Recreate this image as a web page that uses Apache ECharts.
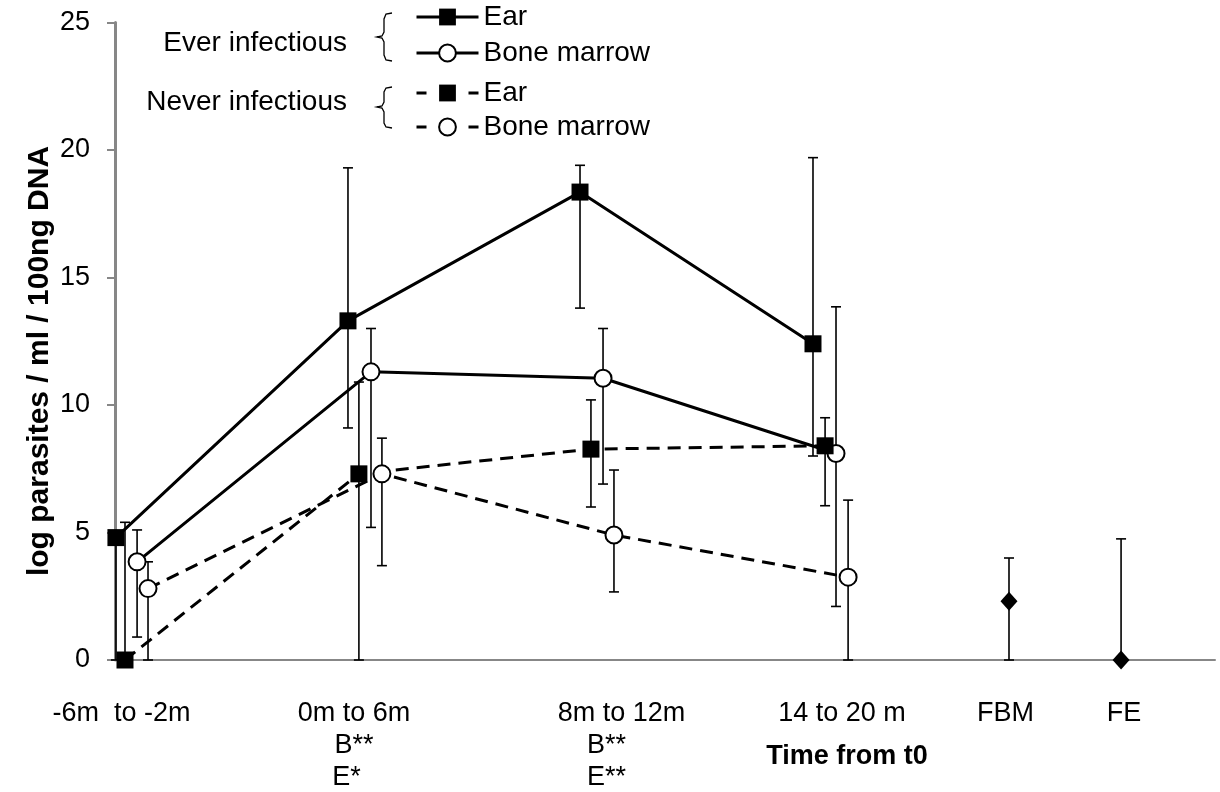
<!DOCTYPE html>
<html>
<head>
<meta charset="utf-8">
<script src="https://cdn.jsdelivr.net/npm/echarts@6/dist/echarts.min.js"></script>
</head>
<body style="margin:0;background:#fff">
<div id="main" style="width:1220px;height:792px"></div>
<script>
// x positions are in "group" units: 0 = -6m to -2m, 1 = 0m to 6m, 2 = 8m to 12m, 3 = 14 to 20 m
var earEverX = [0.004, 1.002, 2.0, 3.002];
var earEver = [4.8, 13.3, 18.35, 12.4];
var earEverLo = [0, 9.1, 13.8, 8.0];
var earEverHi = [4.8, 19.3, 19.4, 19.7];

var boneEverX = [0.095, 1.101, 2.099, 3.101];
var boneEver = [3.85, 11.3, 11.05, 8.1];
var boneEverLo = [0.9, 5.2, 6.9, 2.1];
var boneEverHi = [5.1, 13.0, 13.0, 13.85];

var earNeverX = [0.043, 1.049, 2.047, 3.054];
var earNever = [0, 7.3, 8.27, 8.4];
var earNeverLo = [0, 0, 6.0, 6.05];
var earNeverHi = [5.4, 10.9, 10.2, 9.5];

var boneNeverX = [0.142, 1.148, 2.146, 3.153];
var boneNever = [2.8, 7.3, 4.9, 3.25];
var boneNeverLo = [0, 3.7, 2.67, 0];
var boneNeverHi = [3.85, 8.7, 7.45, 6.27];

var finalX = [3.845, 4.327];
var finalVal = [2.3, 0];
var finalLo = [0, 0];
var finalHi = [4.0, 4.75];

var labelX = [0.028, 1.028, 2.114, 3.127, 3.83, 4.34];
var labelText = ['-6m  to -2m', '0m to 6m\nB**\nE*  ', '    8m to 12m\nB**\nE**', '14 to 20 m', 'FBM', 'FE'];

var yTicks = [0, 5, 10, 15, 20, 25];

function pts(xs, ys) { return xs.map(function (x, i) { return [x, ys[i]]; }); }
function errs(xs, lo, hi) { return xs.map(function (x, i) { return [x, lo[i], hi[i]]; }); }

function errRender(params, api) {
  var x = api.value(0);
  var top = api.coord([x, api.value(2)]);
  var bot = api.coord([x, api.value(1)]);
  var hw = 5;
  var st = { stroke: '#000', lineWidth: 1.6 };
  return {
    type: 'group',
    children: [
      { type: 'line', shape: { x1: top[0], y1: top[1], x2: bot[0], y2: bot[1] }, style: st },
      { type: 'line', shape: { x1: top[0] - hw, y1: top[1], x2: top[0] + hw, y2: top[1] }, style: st },
      { type: 'line', shape: { x1: bot[0] - hw, y1: bot[1], x2: bot[0] + hw, y2: bot[1] }, style: st }
    ]
  };
}

function errSeries(data) {
  return { type: 'custom', renderItem: errRender, data: data, z: 1, silent: true, clip: false };
}

var font = '"Liberation Sans", Arial, sans-serif';
var dash = [13, 8];
var squareStyle = { color: '#000' };
var circleStyle = { color: '#fff', borderColor: '#000', borderWidth: 2 };

var chart = echarts.init(document.getElementById('main'));
chart.setOption({
  animation: false,
  textStyle: { fontFamily: font },
  grid: { left: 115, right: 5, top: 22.5, bottom: 132, containLabel: false, outerBoundsMode: 'none' },
  legend: [
    {
      data: ['Ear', 'Bone marrow'], orient: 'vertical', left: 415, top: 3, padding: 0,
      itemWidth: 62, itemHeight: 21, itemGap: 8, selectedMode: false,
      textStyle: { fontSize: 28, color: '#000', fontFamily: font },
      lineStyle: { width: 3, type: 'solid' }
    },
    {
      data: ['Ear ', 'Bone marrow '], orient: 'vertical', left: 415, top: 79, padding: 0,
      itemWidth: 62, itemHeight: 21, itemGap: 6, selectedMode: false,
      textStyle: { fontSize: 28, color: '#000', fontFamily: font },
      lineStyle: { width: 3, type: [10, 42] }
    }
  ],
  xAxis: {
    type: 'value', min: 0, max: 4.731,
    splitLine: { show: false },
    axisTick: { show: false },
    axisLine: { lineStyle: { color: '#878787', width: 2 } },
    axisLabel: {
      customValues: labelX,
      color: '#000', fontSize: 27, lineHeight: 32, margin: 38, fontFamily: font,
      formatter: function (v) {
        var best = 0;
        for (var i = 1; i < labelX.length; i++) {
          if (Math.abs(labelX[i] - v) < Math.abs(labelX[best] - v)) best = i;
        }
        return labelText[best];
      }
    }
  },
  yAxis: {
    type: 'value', min: 0, max: 25, interval: 5,
    splitLine: { show: false },
    axisLine: { show: true, lineStyle: { color: '#878787', width: 3 } },
    axisTick: { show: true, length: 8, lineStyle: { color: '#878787', width: 2 } },
    axisLabel: { color: '#000', fontSize: 27, margin: 25, fontFamily: font,
      customValues: yTicks }
  },
  graphic: [
    { type: 'text', x: 347, y: 43, style: { text: 'Ever infectious', font: '28px ' + font, fill: '#000', align: 'right', verticalAlign: 'middle', textAlign: 'right', textVerticalAlign: 'middle' } },
    { type: 'text', x: 347, y: 102, style: { text: 'Never infectious', font: '28px ' + font, fill: '#000', align: 'right', verticalAlign: 'middle', textAlign: 'right', textVerticalAlign: 'middle' } },
    { type: 'polyline', shape: { points: [[392, 13], [386, 14], [384, 19], [384, 32], [382, 36], [377, 37], [382, 38], [384, 42], [384, 55], [386, 60], [392, 61]] }, style: { stroke: '#000', lineWidth: 1.3, fill: null } },
    { type: 'polyline', shape: { points: [[392, 87], [386, 88], [384, 92], [384, 102], [382, 106], [377, 107], [382, 108], [384, 112], [384, 123], [386, 127], [392, 128]] }, style: { stroke: '#000', lineWidth: 1.3, fill: null } },
    { type: 'text', x: 40, y: 361, rotation: Math.PI / 2, style: { text: 'log parasites / ml / 100ng DNA', font: 'bold 30px ' + font, fill: '#000', align: 'center', verticalAlign: 'middle', textAlign: 'center', textVerticalAlign: 'middle' } },
    { type: 'text', x: 847, y: 757, style: { text: 'Time from t0', font: 'bold 27px ' + font, fill: '#000', align: 'center', verticalAlign: 'middle', textAlign: 'center', textVerticalAlign: 'middle' } }
  ],
  series: [
    errSeries(errs(earEverX, earEverLo, earEverHi)),
    errSeries(errs(boneEverX, boneEverLo, boneEverHi)),
    errSeries(errs(earNeverX, earNeverLo, earNeverHi)),
    errSeries(errs(boneNeverX, boneNeverLo, boneNeverHi)),
    errSeries(errs(finalX, finalLo, finalHi)),
    {
      name: 'Ear', type: 'line', data: pts(earEverX, earEver), z: 3,
      symbol: 'rect', symbolSize: 17, itemStyle: squareStyle,
      lineStyle: { color: '#000', width: 3 }
    },
    {
      name: 'Bone marrow', type: 'line', data: pts(boneEverX, boneEver), z: 3,
      symbol: 'circle', symbolSize: 17, itemStyle: circleStyle,
      lineStyle: { color: '#000', width: 3 }
    },
    {
      name: 'Ear ', type: 'line', data: pts(earNeverX, earNever), z: 3,
      symbol: 'rect', symbolSize: 17, itemStyle: squareStyle,
      lineStyle: { color: '#000', width: 3, type: dash }
    },
    {
      name: 'Bone marrow ', type: 'line', data: pts(boneNeverX, boneNever), z: 3,
      symbol: 'circle', symbolSize: 17, itemStyle: circleStyle,
      lineStyle: { color: '#000', width: 3, type: dash }
    },
    {
      name: 'Final', type: 'scatter', data: pts(finalX, finalVal), z: 3,
      symbol: 'diamond', symbolSize: [17, 19], itemStyle: { color: '#000', opacity: 1 }
    }
  ]
});
</script>
</body>
</html>
